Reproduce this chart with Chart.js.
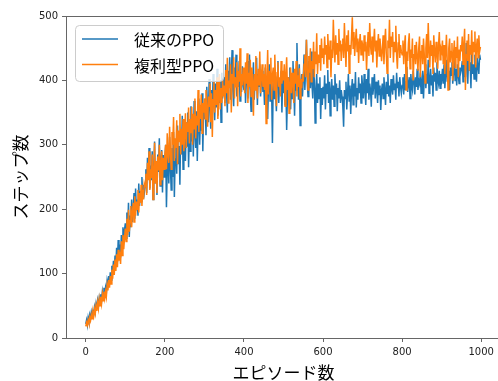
<!DOCTYPE html>
<html>
<head>
<meta charset="utf-8">
<script src="https://cdn.jsdelivr.net/npm/chart.js@4"></script>
<style>
  html, body { margin: 0; padding: 0; background: #fff; overflow: hidden; }
  #wrap { width: 498px; height: 381px; overflow: hidden; }
</style>
</head>
<body>
<div id="wrap"><canvas id="c" width="506" height="381"></canvas></div>
<script>
/* エピソード 0〜998 を 2 刻みで読み取った値 */
const STEP = 2;

// 従来のPPO
const baseline = [
  22, 28, 20, 32, 26, 36, 30, 40, 33, 44, 37, 48, 41, 53, 45, 58, 50, 62, 54, 68, 58, 72, 63, 78, 67,
  78, 70, 88, 80, 96, 84, 102, 90, 112, 98, 120, 105, 128, 112, 140, 118, 152, 130, 145, 125, 160, 140, 172, 150, 168,
  178, 155, 195, 165, 210, 157, 190, 172, 215, 180, 200, 225, 185, 232, 198, 215, 190, 240, 205, 228, 212, 250, 218, 238, 226,
  238, 262, 225, 280, 248, 295, 232, 268, 245, 290, 215, 260, 305, 240, 275, 222, 285, 258, 310, 236, 270, 292, 226, 284, 250,
  275, 300, 203, 262, 288, 240, 312, 266, 230, 295, 250, 320, 219, 278, 305, 255, 330, 270, 298, 238, 318, 285, 345, 262, 300,
  312, 275, 335, 298, 350, 265, 322, 290, 360, 305, 340, 282, 368, 318, 295, 352, 275, 330, 372, 300, 345, 322, 380, 290, 355,
  340, 372, 315, 390, 352, 335, 402, 360, 325, 385, 348, 410, 370, 338, 395, 358, 418, 345, 380, 365, 400, 335, 412, 372, 390,
  405, 365, 425, 382, 350, 415, 395, 436, 370, 408, 447, 385, 360, 420, 398, 440, 375, 412, 390, 430, 368, 405, 382, 422, 395,
  385, 418, 365, 405, 430, 372, 398, 440, 380, 352, 412, 395, 428, 370, 402, 385, 435, 362, 410, 390, 425, 375, 400, 415, 382,
  395, 362, 420, 378, 405, 340, 392, 425, 368, 410, 385, 303, 398, 372, 418, 388, 352, 405, 430, 365, 395, 378, 415, 350, 402,
  380, 410, 362, 395, 323, 378, 405, 388, 420, 355, 398, 372, 430, 392, 345, 415, 385, 458, 400, 370, 425, 330, 395, 410, 375,
  405, 440, 385, 420, 463, 398, 375, 430, 410, 388, 445, 395, 372, 418, 400, 334, 385, 410, 365, 395, 372, 405, 340, 388, 362,
  390, 372, 408, 355, 395, 380, 416, 365, 398, 345, 385, 402, 370, 392, 360, 410, 378, 395, 352, 388, 372, 400, 365, 385, 375,
  360, 328, 385, 372, 398, 355, 380, 410, 368, 392, 348, 385, 402, 362, 395, 375, 413, 358, 388, 370, 405, 380, 395, 365, 408,
  390, 372, 410, 385, 362, 402, 380, 418, 370, 395, 385, 359, 405, 378, 392, 410, 372, 398, 385, 365, 400, 378, 392, 354, 385,
  395, 372, 405, 385, 362, 398, 380, 410, 375, 392, 365, 402, 388, 378, 408, 385, 395, 370, 412, 388, 398, 375, 405, 390, 380,
  392, 405, 378, 410, 385, 398, 421, 382, 395, 405, 372, 410, 392, 385, 415, 398, 378, 405, 390, 418, 385, 400, 395, 412, 380,
  398, 415, 372, 405, 425, 388, 410, 395, 432, 380, 402, 418, 392, 408, 375, 420, 398, 412, 385, 428, 402, 395, 415, 388, 410,
  402, 418, 395, 425, 388, 410, 432, 398, 415, 405, 385, 420, 408, 428, 395, 412, 440, 400, 418, 392, 425, 408, 395, 420, 412,
  418, 430, 398, 445, 412, 405, 458, 420, 395, 438, 415, 428, 388, 445, 410, 425, 402, 440, 418, 398, 435, 422, 410, 440, 432
];

// 複利型PPO
const compound = [
  18, 24, 20, 28, 23, 32, 27, 36, 30, 40, 34, 45, 38, 50, 42, 55, 46, 60, 50, 64, 54, 68, 58, 72, 62,
  72, 64, 82, 74, 90, 78, 96, 84, 106, 92, 114, 98, 122, 104, 130, 110, 137, 120, 134, 115, 150, 128, 160, 138, 155,
  170, 150, 185, 160, 199, 165, 182, 205, 172, 195, 210, 180, 220, 190, 212, 200, 230, 195, 225, 210, 238, 205, 230, 215, 240,
  235, 255, 222, 272, 245, 290, 230, 262, 248, 285, 215, 258, 303, 240, 275, 225, 282, 260, 300, 238, 270, 290, 245, 280, 262,
  285, 300, 262, 318, 285, 272, 328, 290, 262, 320, 300, 343, 275, 310, 295, 338, 270, 322, 305, 348, 285, 325, 300, 340, 290,
  315, 349, 295, 335, 320, 358, 302, 340, 318, 359, 300, 348, 325, 372, 310, 345, 330, 385, 320, 362, 340, 378, 318, 365, 350,
  372, 340, 385, 355, 328, 375, 360, 395, 335, 380, 312, 370, 398, 350, 385, 362, 405, 340, 378, 410, 355, 388, 365, 400, 375,
  392, 360, 416, 380, 435, 365, 400, 388, 425, 350, 410, 395, 436, 372, 405, 390, 428, 360, 415, 398, 450, 375, 410, 392, 420,
  405, 380, 428, 395, 442, 365, 412, 390, 432, 375, 420, 398, 345, 410, 385, 438, 400, 372, 418, 392, 445, 380, 405, 425, 390,
  410, 385, 425, 333, 400, 447, 378, 415, 395, 435, 370, 408, 420, 385, 440, 398, 360, 412, 428, 390, 405, 375, 430, 395, 415,
  400, 425, 360, 410, 436, 385, 405, 349, 395, 420, 380, 412, 398, 365, 418, 395, 430, 375, 408, 390, 419, 372, 402, 388, 410,
  398, 425, 440, 405, 463, 420, 385, 438, 412, 450, 398, 430, 418, 460, 405, 445, 425, 473, 410, 440, 428, 455, 415, 465, 435,
  450, 425, 468, 440, 455, 420, 472, 445, 432, 462, 405, 448, 435, 494, 452, 428, 470, 440, 458, 425, 480, 445, 462, 430, 455,
  465, 435, 489, 450, 421, 470, 445, 478, 411, 455, 440, 468, 498, 450, 475, 438, 462, 480, 445, 465, 427, 458, 472, 440, 462,
  455, 430, 470, 445, 460, 416, 450, 475, 438, 489, 455, 440, 468, 428, 458, 480, 445, 462, 420, 455, 472, 438, 465, 448, 430,
  448, 470, 425, 458, 480, 440, 411, 462, 450, 494, 435, 468, 452, 475, 428, 460, 445, 485, 440, 418, 458, 472, 435, 455, 445,
  440, 462, 425, 455, 470, 385, 445, 430, 458, 473, 418, 448, 435, 465, 400, 440, 455, 425, 460, 438, 415, 450, 468, 405, 445,
  455, 425, 465, 440, 396, 450, 472, 435, 489, 445, 420, 462, 438, 455, 410, 470, 445, 428, 460, 440, 418, 455, 475, 432, 450,
  445, 462, 425, 455, 410, 440, 471, 432, 385, 450, 465, 428, 445, 458, 400, 440, 462, 420, 452, 435, 468, 405, 448, 430, 455,
  445, 468, 425, 455, 480, 385, 440, 462, 430, 472, 415, 455, 440, 478, 425, 460, 445, 476, 420, 452, 465, 435, 470, 445, 452
];

const seriesLabels = ["従来のPPO", "複利型PPO"];
const seriesColors = ["#1f77b4", "#ff7f0e"];
const xTicks = [0, 200, 400, 600, 800, 1000];
const yTicks = [0, 100, 200, 300, 400, 500];

const toPts = arr => arr.map((v, i) => ({ x: i * STEP, y: v }));

const AX = "#666";
const tickFont = { family: "'DejaVu Sans'", size: 10 };
const jpFont = "'Noto Sans CJK JP'";

// 枠線（上・右も）
const frame = {
  id: "frame",
  afterDatasetsDraw(ch) {
    const { ctx, chartArea: a } = ch;
    ctx.save();
    ctx.strokeStyle = AX; ctx.lineWidth = 1;
    ctx.strokeRect(a.left + 0.5, a.top + 0.5, a.right - a.left, a.bottom - a.top);
    ctx.restore();
  }
};

// matplotlib 風の凡例
const legendBox = {
  id: "legendBox",
  afterDraw(ch) {
    const ctx = ch.ctx;
    ctx.save();
    ctx.beginPath();
    ctx.roundRect(75.5, 25.5, 148, 56, 4);
    ctx.fillStyle = "rgba(255,255,255,0.8)"; ctx.fill();
    ctx.strokeStyle = "#cccccc"; ctx.lineWidth = 1; ctx.stroke();
    ctx.font = "16px " + jpFont; ctx.textBaseline = "middle"; ctx.fillStyle = "#000";
    seriesLabels.forEach((lb, i) => {
      const y = 39 + i * 25.5;
      ctx.strokeStyle = seriesColors[i]; ctx.lineWidth = 1.5;
      ctx.beginPath(); ctx.moveTo(82, y); ctx.lineTo(118, y); ctx.stroke();
      ctx.fillText(lb, 134, y + 1);
    });
    ctx.restore();
  }
};

new Chart(document.getElementById("c"), {
  type: "line",
  data: { datasets: [
    { label: seriesLabels[0], data: toPts(baseline), borderColor: seriesColors[0], borderWidth: 1.5, pointRadius: 0, tension: 0, fill: false, order: 1 },
    { label: seriesLabels[1], data: toPts(compound), borderColor: seriesColors[1], borderWidth: 1.5, pointRadius: 0, tension: 0, fill: false, order: 0 }
  ] },
  options: {
    responsive: false, animation: false, events: [],
    layout: { padding: { top: 16, right: 5, left: 0, bottom: 0 } },
    plugins: { legend: { display: false }, tooltip: { enabled: false } },
    scales: {
      x: {
        type: "linear", min: -50, max: 1050,
        afterBuildTicks: s => { s.ticks = xTicks.map(v => ({ value: v })); },
        afterFit: s => { s.height = 43; },
        grid: { drawOnChartArea: false, drawTicks: true, tickLength: 4, color: AX },
        border: { color: AX },
        ticks: { color: "#222", font: tickFont, padding: 4, maxRotation: 0, callback: v => String(v) },
        title: { display: true, text: "エピソード数", color: "#000", font: { family: jpFont, size: 17, lineHeight: 1 }, padding: { top: 0, bottom: 0 } }
      },
      y: {
        min: 0, max: 500,
        afterBuildTicks: s => { s.ticks = yTicks.map(v => ({ value: v })); },
        afterFit: s => { s.width = 66; },
        grid: { drawOnChartArea: false, drawTicks: true, tickLength: 4, color: AX },
        border: { color: AX },
        ticks: { color: "#222", font: tickFont, padding: 4, callback: v => String(v) },
        title: { display: true, text: "ステップ数", color: "#000", font: { family: jpFont, size: 17, lineHeight: 1 }, padding: { top: 12, bottom: 0 } }
      }
    }
  },
  plugins: [frame, legendBox]
});
</script>
</body>
</html>
